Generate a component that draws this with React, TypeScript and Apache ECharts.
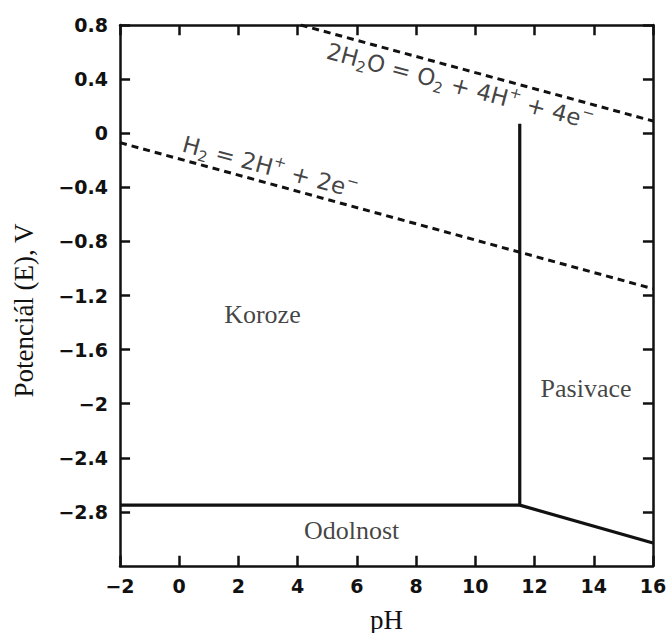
import React, { useEffect, useRef } from "react";
import * as echarts from "echarts";

// Axis ranges (pH, potential in V)
const PH_RANGE = [-2, 16];
const PH_STEP = 2;
const E_RANGE = [-3.2, 0.8];
const E_STEP = 0.4;

// Tick values (drawn on all four sides of the frame)
const PH_TICKS = [-2, 0, 2, 4, 6, 8, 10, 12, 14, 16];
const E_TICKS = [0.8, 0.4, 0, -0.4, -0.8, -1.2, -1.6, -2, -2.4, -2.8];

// Water stability lines (dashed)
const O2_LINE = [
  [4.1, 0.8],
  [16, 0.09],
];
const H2_LINE = [
  [-2, -0.07],
  [16, -1.15],
];

// Solid boundaries
const BOUNDARY_MAIN = [
  [-2, -2.75],
  [11.5, -2.75],
  [11.5, 0.07],
];
const BOUNDARY_SLOPE = [
  [11.5, -2.75],
  [16, -3.03],
];

// Region labels
const REGION_NAMES = ["Koroze", "Pasivace", "Odolnost"];
const REGION_POS = [
  [2.81, -1.337],
  [13.74, -1.884],
  [5.82, -2.941],
];

// Equation labels
const EQ_TEXTS = [
  "2H{sub|2}O = O{sub|2} + 4H{sup|+} + 4e{sup|−}",
  "H{sub|2} = 2H{sup|+} + 2e{sup|−}",
];
const EQ_POS = [
  [9.48, 0.349],
  [3.07, -0.25],
];

const INK = "#111";
// tick length expressed in axis units (about 10 px each)
const TICK_DY = 0.075;
const TICK_DX = 0.34;

export default function App() {
  const ref = useRef<HTMLDivElement>(null);

  useEffect(() => {
    if (!ref.current) return;
    const chart = echarts.init(ref.current, null, { renderer: "svg" });

    const fmtE = (v: number) => {
      if (Math.abs(v - E_RANGE[0]) < 1e-6) return "";
      const s = String(+v.toFixed(1));
      return s.replace("-", "−");
    };
    const fmtPH = (v: number) => String(v).replace("-", "−");

    const axisLine = () => ({
      show: true,
      onZero: false,
      lineStyle: { color: INK, width: 2.5 },
    });
    const tickFont = () => ({
      color: INK,
      fontFamily: "DejaVu Sans",
      fontWeight: "bold" as const,
      fontSize: 19,
    });

    const lineStyleDashed = { color: INK, width: 3, type: [7, 5] as any };
    const lineStyleSolid = { color: INK, width: 3.2 };

    const tickSegments: any[] = [];
    PH_TICKS.forEach((x) => {
      tickSegments.push({ coords: [[x, E_RANGE[0]], [x, E_RANGE[0] + TICK_DY]] });
      tickSegments.push({ coords: [[x, E_RANGE[1]], [x, E_RANGE[1] - TICK_DY]] });
    });
    E_TICKS.forEach((y) => {
      tickSegments.push({ coords: [[PH_RANGE[0], y], [PH_RANGE[0] + TICK_DX, y]] });
      tickSegments.push({ coords: [[PH_RANGE[1], y], [PH_RANGE[1] - TICK_DX, y]] });
    });

    const eqRich = {
      sub: {
        fontSize: 15,
        lineHeight: 15,
        verticalAlign: "bottom" as const,
        fontFamily: "DejaVu Sans",
        color: INK,
      },
      sup: {
        fontSize: 15,
        lineHeight: 15,
        verticalAlign: "top" as const,
        fontFamily: "DejaVu Sans",
        color: INK,
      },
    };

    chart.setOption({
      animation: false,
      grid: {
        left: 120,
        right: 14,
        top: 25,
        bottom: 67,
        containLabel: false,
        outerBoundsMode: "none",
      },
      xAxis: [
        {
          type: "value",
          min: PH_RANGE[0],
          max: PH_RANGE[1],
          interval: PH_STEP,
          position: "bottom",
          name: "pH",
          nameLocation: "middle",
          nameGap: 40,
          nameTextStyle: {
            fontFamily: "Liberation Serif",
            fontSize: 27,
            color: INK,
          },
          axisLine: axisLine(),
          axisTick: { show: false },
          axisLabel: { ...tickFont(), margin: 10, formatter: fmtPH },
          splitLine: { show: false },
        },
        {
          type: "value",
          min: PH_RANGE[0],
          max: PH_RANGE[1],
          interval: PH_STEP,
          position: "top",
          axisLine: axisLine(),
          axisTick: { show: false },
          axisLabel: { show: false },
          splitLine: { show: false },
        },
      ],
      yAxis: [
        {
          type: "value",
          min: E_RANGE[0],
          max: E_RANGE[1],
          interval: E_STEP,
          position: "left",
          name: "Potenciál (E), V",
          nameLocation: "middle",
          nameGap: 83,
          nameTextStyle: {
            fontFamily: "Liberation Serif",
            fontSize: 27,
            color: INK,
            padding: [0, 30, 0, 0],
          },
          axisLine: axisLine(),
          axisTick: { show: false },
          axisLabel: { ...tickFont(), margin: 12, formatter: fmtE },
          splitLine: { show: false },
        },
        {
          type: "value",
          min: E_RANGE[0],
          max: E_RANGE[1],
          interval: E_STEP,
          position: "right",
          axisLine: axisLine(),
          axisTick: { show: false },
          axisLabel: { show: false },
          splitLine: { show: false },
        },
      ],
      series: [
        {
          type: "line",
          data: O2_LINE,
          symbol: "none",
          lineStyle: lineStyleDashed,
          silent: true,
        },
        {
          type: "line",
          data: H2_LINE,
          symbol: "none",
          lineStyle: lineStyleDashed,
          silent: true,
        },
        {
          type: "line",
          data: BOUNDARY_MAIN,
          symbol: "none",
          lineStyle: lineStyleSolid,
          silent: true,
        },
        {
          type: "line",
          data: BOUNDARY_SLOPE,
          symbol: "none",
          lineStyle: lineStyleSolid,
          silent: true,
        },
        {
          type: "lines",
          coordinateSystem: "cartesian2d",
          silent: true,
          z: 5,
          lineStyle: { color: INK, width: 2.5, opacity: 1 },
          data: tickSegments,
        },
        {
          type: "scatter",
          silent: true,
          symbolSize: 1,
          itemStyle: { color: "transparent" },
          clip: false,
          data: REGION_NAMES.map((n, i) => ({ name: n, value: REGION_POS[i] })),
          label: {
            show: true,
            position: "inside",
            formatter: (p: any) => p.name,
            fontFamily: "Liberation Serif",
            fontSize: 26,
            color: INK,
          },
        },
        {
          type: "scatter",
          silent: true,
          symbolSize: 1,
          itemStyle: { color: "transparent" },
          clip: false,
          data: EQ_TEXTS.map((t, i) => ({ name: t, value: EQ_POS[i] })),
          label: {
            show: true,
            position: "inside",
            rotate: -15,
            formatter: (p: any) => p.name,
            fontFamily: "DejaVu Sans",
            fontSize: 23,
            lineHeight: 30,
            color: INK,
            rich: eqRich,
          },
        },
      ],
    });

    return () => chart.dispose();
  }, []);

  return (
    <div
      ref={ref}
      style={{
        position: "fixed",
        left: 0,
        top: 0,
        width: 667,
        height: 633,
        background: "#fff",
      }}
    />
  );
}
